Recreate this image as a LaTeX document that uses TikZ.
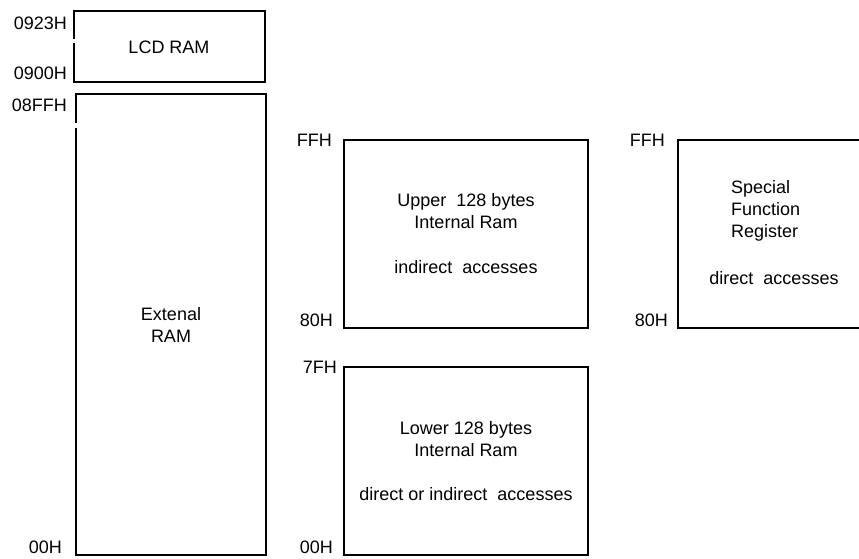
\documentclass[tikz,border=0pt]{standalone}
\usepackage{fontspec}
\setmainfont{Liberation Sans}
\begin{document}
\begin{tikzpicture}[x=1pt,y=-1pt,
  lbl/.style={font=\fontsize{18}{22}\selectfont, inner sep=0pt},
  txt/.style={font=\fontsize{18}{22}\selectfont, align=center, inner sep=0pt},
  memedge/.style={line width=1.5pt, line join=miter}]
\useasboundingbox (0,0) rectangle (859,558);
\clip (0,0) rectangle (859,558);

% LCD RAM block (small break in its left side)
\draw[memedge] (74,43) -- (74,82) -- (265,82) -- (265,11) -- (74,11) -- (74,39);
\node[txt] (lcd) at (169,47) {LCD RAM};
\node[lbl, anchor=east] (a0923) at (67,23) {0923H};
\node[lbl, anchor=east] (a0900) at (67,73) {0900H};

% External RAM block (small break in its left side)
\draw[memedge] (76,128) -- (76,555) -- (266,555) -- (266,94) -- (76,94) -- (76,123);
\node[txt] (ext) at (171,325) {Extenal\\RAM};
\node[lbl, anchor=east] (a08ff) at (67,105) {08FFH};
\node[lbl, anchor=east] (a0000) at (62,547.5) {00H};

% Upper 128 bytes of internal RAM
\draw[memedge] (344,140) rectangle (588,328);
\node[txt] (upper) at (466,211.5) {Upper\ \ 128 bytes\\Internal Ram};
\node[txt] (upacc) at (466,267) {indirect\ \ accesses};
\node[lbl, anchor=east] (uff) at (332,140) {FFH};
\node[lbl, anchor=east] (u80) at (333,320) {80H};

% Lower 128 bytes of internal RAM
\draw[memedge] (344,367) rectangle (588,555);
\node[txt] (lower) at (466,439) {Lower 128 bytes\\Internal Ram};
\node[txt] (loacc) at (466,494) {direct or indirect\ \ accesses};
\node[lbl, anchor=east] (l7f) at (337,367) {7FH};
\node[lbl, anchor=east] (l00) at (333,547.5) {00H};

% Special function registers (runs past the right border)
\draw[memedge] (880,140) -- (678,140) -- (678,328) -- (880,328);
\node[txt, align=left, anchor=west] (sfr) at (731,211) {Special\\Function\\Register};
\node[txt] (sfracc) at (774,278) {direct\ \ accesses};
\node[lbl, anchor=east] (sff) at (665,140) {FFH};
\node[lbl, anchor=east] (s80) at (668,320) {80H};
\end{tikzpicture}
\end{document}
